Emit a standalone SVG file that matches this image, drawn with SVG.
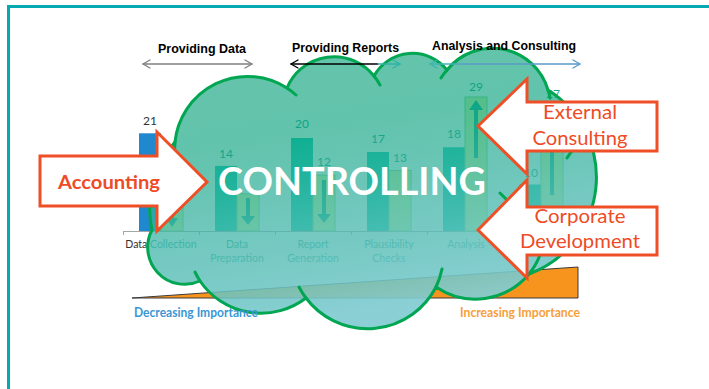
<svg xmlns="http://www.w3.org/2000/svg" width="709" height="389" viewBox="0 0 709 389">
  <defs>
    <linearGradient id="cloudGrad" x1="0" y1="0" x2="0.25" y2="1">
      <stop offset="0" stop-color="#009d70" stop-opacity="0.6"/>
      <stop offset="0.35" stop-color="#0aa27e" stop-opacity="0.64"/>
      <stop offset="0.65" stop-color="#44b6a8" stop-opacity="0.76"/>
      <stop offset="1" stop-color="#82ccd2" stop-opacity="0.93"/>
    </linearGradient>
    <linearGradient id="reportsGrad" gradientUnits="userSpaceOnUse" x1="291" y1="0" x2="401" y2="0">
      <stop offset="0.78" stop-color="#000000"/>
      <stop offset="0.8" stop-color="#2fb3a6"/>
    </linearGradient>
    <linearGradient id="analysisGrad" gradientUnits="userSpaceOnUse" x1="430" y1="0" x2="581" y2="0">
      <stop offset="0.14" stop-color="#3db4b2"/>
      <stop offset="0.22" stop-color="#5a9bc8"/>
    </linearGradient>
    <linearGradient id="dcLabelGrad" gradientUnits="userSpaceOnUse" x1="120" y1="0" x2="200" y2="0">
      <stop offset="0.34" stop-color="#333333"/>
      <stop offset="0.36" stop-color="#1aa890"/>
    </linearGradient>
  </defs>
  <style>
    .hdr { font-family: "Liberation Sans", Arial, sans-serif; font-weight: bold; font-size: 12px; fill: #000; }
    .val { font-family: Lato, "Open Sans", sans-serif; font-size: 12px; fill: #12a892; text-anchor: middle; }
    .cat { font-family: Lato, "Open Sans", sans-serif; font-size: 10.5px; fill: #1aa890; text-anchor: middle; }
    .blue { fill: #10c4b0; }
    .green { fill: #d8f2a0; stroke: #86d08e; stroke-width: 1; }
    .barArrow { fill: #13ab90; }
    .head { fill: none; stroke-width: 1.4; stroke-linecap: round; stroke-linejoin: round; }
    .cloudLine { fill: none; stroke: #00a651; stroke-width: 3; stroke-linecap: round; }
    .bigArrow { fill: #ffffff; stroke: #ee4f27; stroke-width: 3; stroke-linejoin: miter; }
    .arrowText { font-family: Lato, "Open Sans", sans-serif; font-size: 19px; fill: #ee4b26; text-anchor: middle; }
    .imp { font-family: Lato, "Open Sans", sans-serif; font-weight: bold; font-size: 12.5px; }
  </style>

  <rect width="709" height="389" fill="#ffffff"/>

  <g id="frame">
    <path d="M8.5,389 L8.5,6.5 L709,6.5" fill="none" stroke="#07a9b0" stroke-width="3"/>
  </g>

  <g id="chart">
    <line x1="123" y1="231.5" x2="579" y2="231.5" stroke="#a6a6a6" stroke-width="1"/>
    <path d="M123.5,231 v4 M199.5,231 v4 M275.5,231 v4 M351.5,231 v4 M427.5,231 v4 M503.5,231 v4 M579.5,231 v4" stroke="#a6a6a6" stroke-width="1"/>

    <rect x="139" y="133.3" width="22" height="97.7" fill="#1f88ce"/>
    <rect class="green" x="161" y="198.4" width="22" height="32.6"/>
    <path class="barArrow" d="M170,203 h4 v15 h4 l-6,9 l-6,-9 h4 z"/>

    <rect class="blue" x="215" y="165.9" width="22" height="65.1"/>
    <rect class="green" x="237" y="193.8" width="22" height="37.2"/>
    <path class="barArrow" d="M246,198 h4 v18 h5 l-7,9 l-7,-9 h5 z"/>

    <rect class="blue" x="291" y="138" width="22" height="93"/>
    <rect class="green" x="313" y="175.2" width="22" height="55.8"/>
    <path class="barArrow" d="M322,180 h4 v34 h5 l-7,9 l-7,-9 h5 z"/>

    <rect class="blue" x="367" y="152" width="22" height="79"/>
    <rect class="green" x="389" y="170.5" width="22" height="60.5"/>

    <rect class="blue" x="443" y="147.3" width="22" height="83.7"/>
    <rect class="green" x="465" y="97" width="22" height="134"/>
    <path class="barArrow" d="M474,158 h4 v-48 h5 l-7,-10 l-7,10 h5 z"/>

    <rect class="blue" x="519" y="184.5" width="22" height="46.5"/>
    <rect class="green" x="541" y="105.4" width="22" height="125.6"/>
    <path class="barArrow" d="M550,195 h4 v-76 h5 l-7,-10 l-7,10 h5 z"/>

    <text class="val" x="150" y="125" style="fill:#333333">21</text>
    <text class="val" x="226" y="158">14</text>
    <text class="val" x="302" y="128">20</text>
    <text class="val" x="324" y="166">12</text>
    <text class="val" x="378" y="143">17</text>
    <text class="val" x="400" y="162">13</text>
    <text class="val" x="454" y="138">18</text>
    <text class="val" x="476" y="91">29</text>
    <text class="val" x="531" y="177">10</text>
    <text class="val" x="553" y="98">27</text>

    <text class="cat" x="161" y="248" style="fill:url(#dcLabelGrad)">Data Collection</text>
    <text class="cat" x="237" y="248">Data</text>
    <text class="cat" x="237" y="262">Preparation</text>
    <text class="cat" x="313" y="248">Report</text>
    <text class="cat" x="313" y="262">Generation</text>
    <text class="cat" x="389" y="248">Plausibility</text>
    <text class="cat" x="389" y="262">Checks</text>
    <text class="cat" x="466" y="248">Analysis</text>
  </g>

  <g id="importance-wedge">
    <polygon points="132,298 578,267 578,298" fill="#f7941d" stroke="#3a3a3a" stroke-width="1"/>
  </g>

  <g id="cloud">
    <path d="M175,142 A73,73 0 0,1 287,88 A51,51 0 0,1 374,76 A44,44 0 0,1 447,70 A58,58 0 0,1 548,90 A103,103 0 0,1 529,274 A70,70 0 0,1 436,287 A77,77 0 0,1 306,298 A74,74 0 0,1 200,281 A37,37 0 0,1 152,230 A100,100 0 0,1 175,142 Z" fill="url(#cloudGrad)" stroke="#00a651" stroke-width="3"/>
    <path class="cloudLine" d="M287,88 A73,73 0 0,1 296,95 M374,76 A51,51 0 0,1 380,85 M441,78 A58,58 0 0,1 447,70 M548,90 A58,58 0 0,1 550,98 M540,255 A70,70 0 0,1 529,274 M442,269 A77,77 0 0,1 436,287 M306,298 A77,77 0 0,1 299,287 M200,281 A74,74 0 0,1 195,272 M175,155 A73,73 0 0,1 175,142 M500,193 Q504,197 507,200 M567,158 Q570,153 573,150"/>
  </g>

  <g id="header">
    <text class="hdr" x="158" y="53" textLength="88" lengthAdjust="spacingAndGlyphs">Providing Data</text>
    <text class="hdr" x="292" y="52" textLength="107" lengthAdjust="spacingAndGlyphs">Providing Reports</text>
    <text class="hdr" x="432" y="50" textLength="144" lengthAdjust="spacingAndGlyphs">Analysis and Consulting</text>
  </g>

  <g id="connectors">
    <g stroke="#808080" class="head">
      <line x1="143" y1="64" x2="252" y2="64"/>
      <path d="M150,60 L143,64 L150,68 M245,60 L252,64 L245,68"/>
    </g>
    <g stroke="url(#reportsGrad)" class="head">
      <line x1="291" y1="64" x2="400" y2="64" stroke-width="1.6"/>
      <path d="M298,60 L291,64 L298,68" stroke="#000000"/>
      <path d="M393,60 L400,64 L393,68" stroke="#2fb3a6"/>
    </g>
    <g stroke="url(#analysisGrad)" class="head">
      <line x1="430" y1="64" x2="580" y2="64"/>
      <path d="M437,60 L430,64 L437,68" stroke="#3db4b2"/>
      <path d="M573,60 L580,64 L573,68" stroke="#5a9bc8"/>
    </g>
  </g>

  <g id="importance-labels">
    <text class="imp" x="134" y="317" fill="#3b97d3" textLength="124" lengthAdjust="spacingAndGlyphs">Decreasing Importance</text>
    <text class="imp" x="460" y="317" fill="#f6a03c" textLength="120" lengthAdjust="spacingAndGlyphs">Increasing Importance</text>
  </g>

  <g id="controlling">
    <text x="218" y="195" font-family="Lato, 'Open Sans', sans-serif" font-weight="bold" font-size="38" fill="#ffffff" textLength="268" lengthAdjust="spacingAndGlyphs">CONTROLLING</text>
  </g>

  <g id="accounting">
    <polygon class="bigArrow" points="40,156 157,156 157,132 207,182 157,231 157,206 40,206"/>
    <text class="arrowText" x="109" y="189" font-weight="bold" font-size="20" textLength="102" lengthAdjust="spacingAndGlyphs">Accounting</text>
  </g>

  <g id="external-consulting">
    <polygon class="bigArrow" points="478,126 527,79 527,102 657,102 657,151 527,151 527,174"/>
    <text class="arrowText" x="580" y="119" textLength="74" lengthAdjust="spacingAndGlyphs">External</text>
    <text class="arrowText" x="580" y="145" textLength="95" lengthAdjust="spacingAndGlyphs">Consulting</text>
  </g>

  <g id="corporate-development">
    <polygon class="bigArrow" points="478,230 527,180 527,207 657,207 657,255 527,255 527,278"/>
    <text class="arrowText" x="580" y="223" textLength="91" lengthAdjust="spacingAndGlyphs">Corporate</text>
    <text class="arrowText" x="580" y="248" textLength="120" lengthAdjust="spacingAndGlyphs">Development</text>
  </g>
</svg>
